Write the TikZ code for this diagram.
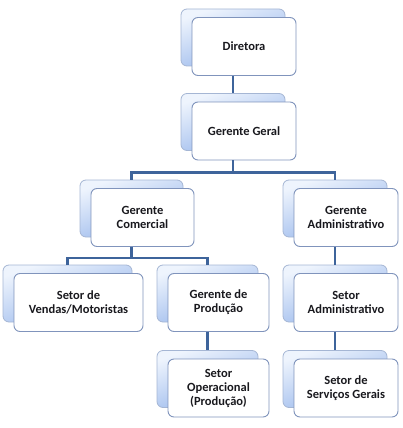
\documentclass[tikz,border=0pt]{standalone}
\usepackage{fontspec}
\setmainfont{Carlito}
\usetikzlibrary{positioning,calc}
\definecolor{linkblue}{RGB}{62,100,155}
\definecolor{backtop}{RGB}{238,244,253}
\definecolor{backbot}{RGB}{145,178,234}
\definecolor{backline}{RGB}{165,182,212}
\definecolor{frontline}{RGB}{128,148,188}
\definecolor{ink}{RGB}{25,25,30}
\tikzset{
  back/.style={draw=backline,top color=backtop,bottom color=backbot,shading angle=20,
    rounded corners=6pt,minimum height=57pt,line width=0.8pt},
  front/.style={draw=frontline,fill=white,rounded corners=6pt,minimum height=58pt,
    line width=0.9pt,align=center,font=\fontsize{12.5}{14}\selectfont\bfseries,text=ink,
    inner sep=2pt},
  link/.style={draw=linkblue,line width=2.4pt},
}
\begin{document}
\begin{tikzpicture}[x=1pt,y=-1pt]
  \useasboundingbox (0,0) rectangle (402,428);
  % boxes: back card, then front card shifted right and down
  \foreach \n/\x/\y/\w/\t in {dir/233/37.5/104/Diretora,
      gg/233/122/104/Gerente Geral,
      gc/131.5/208.5/103/{Gerente\\Comercial},
      ga/335/208.5/104/{Gerente\\Administrativo},
      sv/67.5/293.5/129/{Setor de\\Vendas/Motoristas},
      gp/207.5/293.5/101/{Gerente de\\Produção},
      sa/335/293.5/104/{Setor\\Administrativo},
      so/207.5/379/101/{Setor\\Operacional\\(Produção)},
      ss/335/379/104/{Setor de\\Serviços Gerais}}{
    \node[back,minimum width=\w pt] (\n b) at (\x,\y) {};
    \node[front,minimum width=\w pt] (\n) at ($(\n b)+(11,9)$) {\t};
  }
  % connectors
  \draw[link] (dirb |- dir.south) -- (ggb.north);
  \draw[link] (ggb |- gg.south) -- ++(0,12) -| (gcb.north);
  \draw[link] (ggb |- gg.south) -- ++(0,12) -| (gab.north);
  \draw[link] (gcb |- gc.south) -- ++(0,11) -| (svb.north);
  \draw[link] (gcb |- gc.south) -- ++(0,11) -| (gpb.north);
  \draw[link] (gab |- ga.south) -- (sab.north);
  \draw[link] (gpb |- gp.south) -- (sob.north);
  \draw[link] (sab |- sa.south) -- (ssb.north);
\end{tikzpicture}
\end{document}
